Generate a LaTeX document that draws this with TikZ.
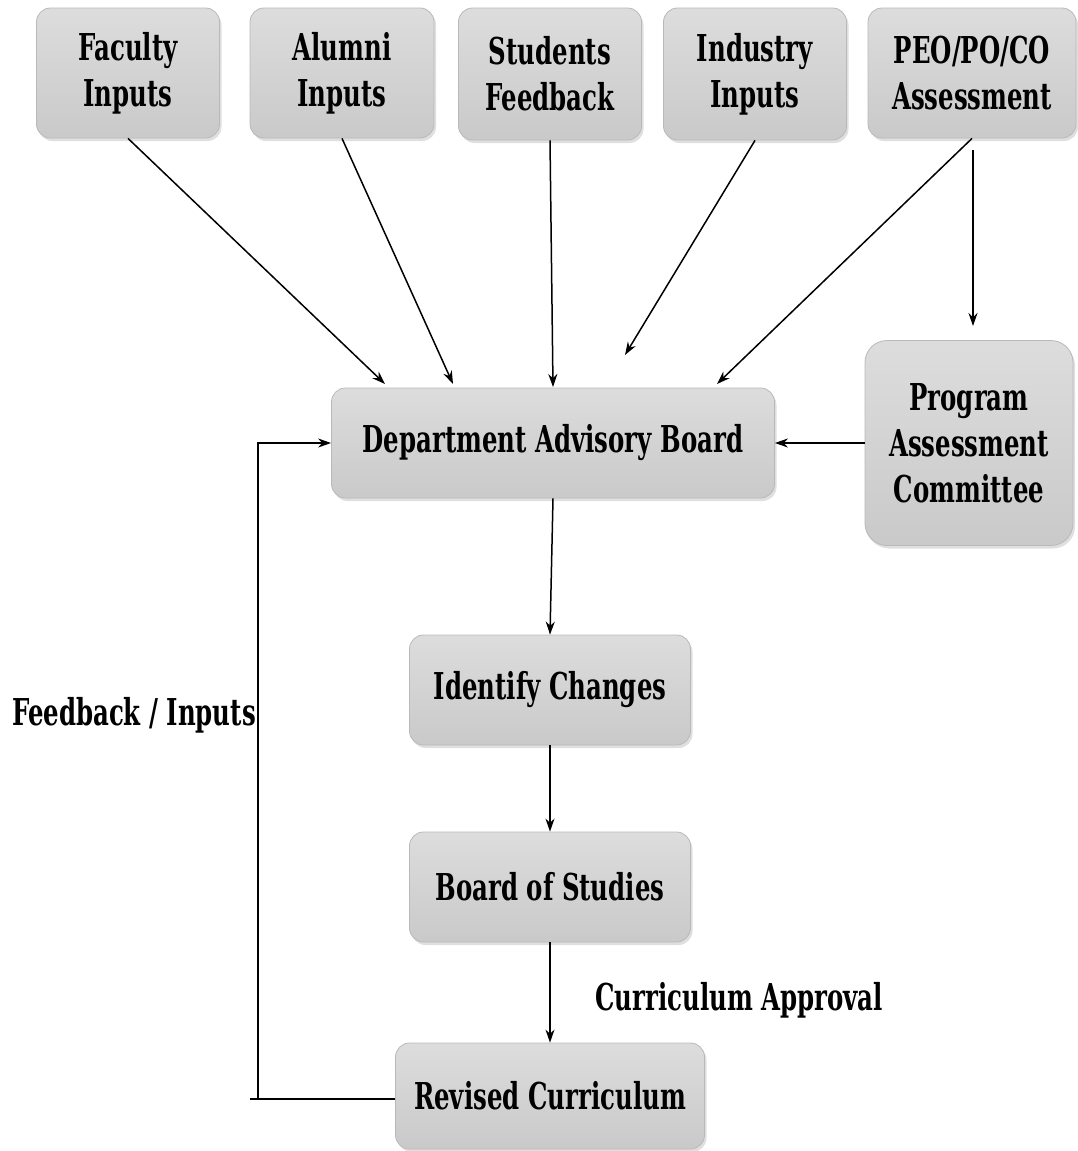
\documentclass[tikz,border=0pt]{standalone}
\usepackage{fontspec}
\setmainfont{DejaVu Serif}[FakeStretch=0.66]
\usetikzlibrary{arrows.meta,shadows}
\begin{document}
\begin{tikzpicture}[x=1pt,y=-1pt,
 box/.style={draw=gray!55, line width=0.8pt, rounded corners=14pt, top color=gray!27, bottom color=gray!42,
   drop shadow={shadow xshift=2pt,shadow yshift=-3pt,opacity=0.25}, inner sep=0pt, align=center,
   font=\fontsize{37}{46}\selectfont\bfseries},
 arr/.style={-{Stealth[length=13pt,width=9pt]}, line width=1.5pt},
 ln/.style={line width=1.5pt},
 lbl/.style={font=\fontsize{37}{46}\selectfont\bfseries, inner sep=0pt}]
\useasboundingbox (0,0) rectangle (1078,1151);
% top row
\node[box, minimum width=183pt, minimum height=130pt] (fac) at (128,73) {Faculty\\Inputs};
\node[box, minimum width=184pt, minimum height=130pt] (alu) at (342,73) {Alumni\\Inputs};
\node[box, minimum width=183pt, minimum height=132pt] (stu) at (550,74) {Students\\Feedback};
\node[box, minimum width=183pt, minimum height=132pt] (ind) at (755,74) {Industry\\Inputs};
\node[box, minimum width=208pt, minimum height=130pt] (peo) at (972,73) {PEO/PO/CO\\Assessment};
% middle
\node[box, minimum width=443pt, minimum height=110pt] (dab) at (553,443) {Department Advisory Board};
\node[box, minimum width=208pt, minimum height=205pt, rounded corners=22pt] (pac) at (969,443) {Program\\Assessment\\Committee};
\node[box, minimum width=281pt, minimum height=110pt] (idc) at (550,690) {Identify Changes};
\node[box, minimum width=281pt, minimum height=110pt] (bos) at (550,887) {Board of Studies};
\node[box, minimum width=309pt, minimum height=106pt] (rc) at (550,1096) {Revised Curriculum};
% labels
\node[lbl, anchor=east] (fbl) at (256,715) {Feedback / Inputs};
\node[lbl, anchor=west] (cal) at (595,1000) {Curriculum Approval};
% free end coordinates
\coordinate (t1) at (385,384);
\coordinate (t2) at (453,384);
\coordinate (t3) at (553,387);
\coordinate (t4) at (625,355);
\coordinate (t5) at (717,384);
\coordinate (ps) at (973,150);
\coordinate (pe) at (973,326);
\coordinate (fb0) at (250,1099);
\coordinate (fb1) at (258,1099);
\coordinate (fb2) at (258,443);
% connectors
\draw[arr] (fac.south) -- (t1);
\draw[arr] (alu.south) -- (t2);
\draw[arr] (stu.south) -- (t3);
\draw[arr] (ind.south) -- (t4);
\draw[arr] (peo.south) -- (t5);
\draw[arr] (ps) -- (pe);
\draw[arr] (pac.west) -- (dab.east);
\draw[arr] (dab.south) -- (idc.north);
\draw[arr] (idc.south) -- (bos.north);
\draw[arr] (bos.south) -- (rc.north);
\draw[ln] (rc.west |- fb0) -- (fb0);
\draw[arr] (fb1) -- (fb2) -- (dab.west);
\end{tikzpicture}
\end{document}
